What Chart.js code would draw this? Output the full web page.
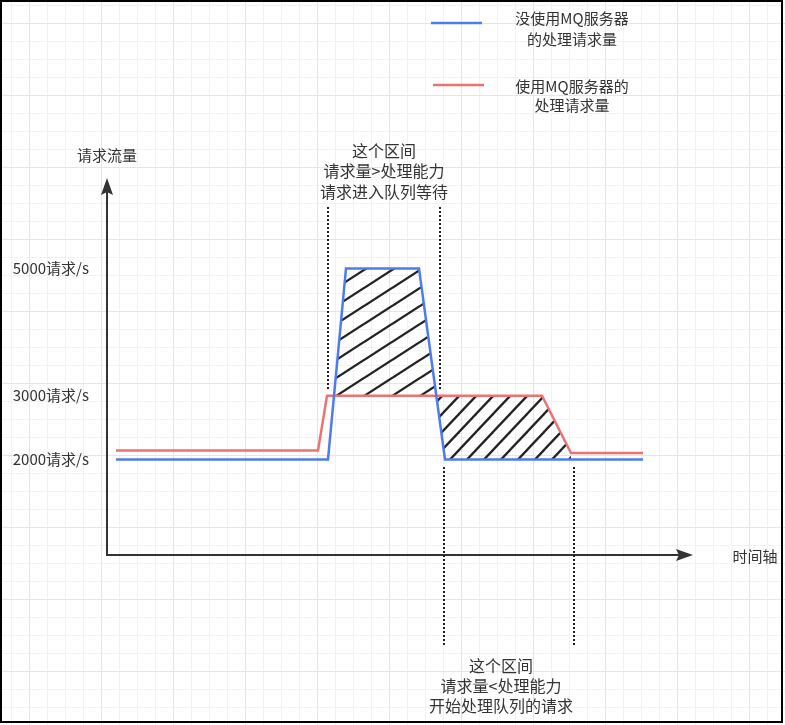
<!DOCTYPE html>
<html>
<head>
<meta charset="utf-8">
<script src="https://cdn.jsdelivr.net/npm/chart.js@4/dist/chart.umd.min.js"></script>
<style>
html, body { margin: 0; padding: 0; background: #fff; }
canvas { display: block; }
</style>
</head>
<body>
<canvas id="c" width="785" height="725"></canvas>
<script>
// ---------- data ----------
const seriesNames = ['没使用MQ服务器的处理请求量', '使用MQ服务器的处理请求量'];
const noMqTime = [0.9, 22.1, 23.9, 31.2, 33.8, 53.6];
const noMqRate = [2000, 2000, 5000, 5000, 2000, 2000];
const mqTime = [0.9, 21.1, 22.0, 43.5, 46.4, 53.6];
const mqRate = [2140, 2140, 3000, 3000, 2100, 2100];
const queueInTime = [22.7, 23.9, 31.2, 32.9];
const queueInRate = [3000, 5000, 5000, 3000];
const queueOutTime = [32.9, 43.5, 46.4, 46.4, 33.8];
const queueOutRate = [3000, 3000, 2100, 2000, 2000];
const yTickValues = [2000, 3000, 5000];
const yTickLabels = ['2000请求/s', '3000请求/s', '5000请求/s'];
const yAxisTitle = '请求流量';
const xAxisTitle = '时间轴';
const legendLines = [['没使用MQ服务器', '的处理请求量'], ['使用MQ服务器的', '处理请求量']];
const noteAbove = ['这个区间', '请求量>处理能力', '请求进入队列等待'];
const noteBelow = ['这个区间', '请求量<处理能力', '开始处理队列的请求'];
const guideTime = [22.1, 33.3, 33.7, 46.7];
const guideFrom = [5965, 5965, 1880, 1880];
const guideTo = [3090, 3090, -930, -930];

// ---------- styling ----------
const FONT = '"Noto Sans CJK SC", "Noto Sans", sans-serif';
const TEXT = '#333333';
const BLUE = '#4f7bef';
const RED = '#ef7272';

const pts = (xs, ys) => xs.map((x, i) => ({ x: x, y: ys[i] }));

function hatch(w, h) {
  const c = document.createElement('canvas');
  c.width = w; c.height = h;
  const g = c.getContext('2d');
  g.strokeStyle = '#222';
  g.lineWidth = 2.3;
  for (let k = -1; k <= 1; k++) {
    g.beginPath();
    g.moveTo(-w, 2 * h + k * h);
    g.lineTo(2 * w, -h + k * h);
    g.stroke();
  }
  return g.createPattern(c, 'repeat');
}

const deco = {
  id: 'deco',
  beforeDraw(chart) {
    const ctx = chart.ctx, W = chart.width, H = chart.height;
    ctx.save();
    ctx.fillStyle = '#fff';
    ctx.fillRect(0, 0, W, H);
    ctx.lineWidth = 1;
    ctx.strokeStyle = '#f2f2f2';
    ctx.beginPath();
    for (let x = 11.5; x < W; x += 18) { ctx.moveTo(x, 0); ctx.lineTo(x, H); }
    for (let y = 5.5; y < H; y += 18) { ctx.moveTo(0, y); ctx.lineTo(W, y); }
    ctx.stroke();
    ctx.strokeStyle = '#e5e5e5';
    ctx.beginPath();
    for (let x = 29.5; x < W; x += 72) { ctx.moveTo(x, 0); ctx.lineTo(x, H); }
    for (let y = 23.5; y < H; y += 72) { ctx.moveTo(0, y); ctx.lineTo(W, y); }
    ctx.stroke();
    ctx.restore();
  },
  afterDraw(chart) {
    const ctx = chart.ctx;
    const xs = chart.scales.x, ys = chart.scales.y, ca = chart.chartArea;
    ctx.save();
    // dotted guides
    ctx.strokeStyle = '#1e1e1e';
    ctx.lineWidth = 2;
    ctx.setLineDash([2, 2]);
    guideTime.forEach((t, i) => {
      const px = Math.round(xs.getPixelForValue(t));
      ctx.beginPath();
      ctx.moveTo(px, Math.round(ys.getPixelForValue(guideFrom[i])));
      ctx.lineTo(px, Math.round(ys.getPixelForValue(guideTo[i])));
      ctx.stroke();
    });
    ctx.setLineDash([]);
    // arrow heads
    ctx.fillStyle = '#333';
    const ax = ca.left, ay = ca.bottom;
    ctx.beginPath();
    ctx.moveTo(ax, 178); ctx.lineTo(ax + 6, 195); ctx.lineTo(ax, 192); ctx.lineTo(ax - 6, 195);
    ctx.closePath(); ctx.fill();
    ctx.beginPath();
    ctx.moveTo(693, ay); ctx.lineTo(676, ay - 6); ctx.lineTo(679, ay); ctx.lineTo(676, ay + 6);
    ctx.closePath(); ctx.fill();
    // texts
    ctx.fillStyle = TEXT;
    ctx.textAlign = 'center';
    ctx.textBaseline = 'middle';
    ctx.font = '15px ' + FONT;
    ctx.fillText(yAxisTitle, ax, 155);
    ctx.fillText(xAxisTitle, 755, ay + 1);
    // legend
    const legendY = [23, 85];
    const textY = [[18, 39], [86, 105]];
    chart.data.datasets.slice(0, 2).forEach((ds, i) => {
      ctx.strokeStyle = ds.borderColor;
      ctx.lineWidth = 2.5;
      ctx.beginPath();
      ctx.moveTo(431 + i * 2, legendY[i]);
      ctx.lineTo(482 + i * 2, legendY[i]);
      ctx.stroke();
      legendLines[i].forEach((s, j) => ctx.fillText(s, 572, textY[i][j]));
    });
    // notes
    ctx.font = '16px ' + FONT;
    noteAbove.forEach((s, j) => ctx.fillText(s, 384, 151 + j * 20.3));
    noteBelow.forEach((s, j) => ctx.fillText(s, 501, 666 + j * 19.8));
    // frame
    ctx.strokeStyle = '#000';
    ctx.lineWidth = 2;
    ctx.strokeRect(1, 1, 781, 721);
    ctx.restore();
  }
};

const chart = new Chart(document.getElementById('c'), {
  type: 'line',
  data: {
    datasets: [
      { label: seriesNames[0], data: pts(noMqTime, noMqRate), borderColor: BLUE, borderWidth: 2.5,
        pointRadius: 0, fill: false, tension: 0, order: 0 },
      { label: seriesNames[1], data: pts(mqTime, mqRate), borderColor: RED, borderWidth: 2.5,
        pointRadius: 0, fill: false, tension: 0, order: 1 },
      { label: 'queue-in', data: pts(queueInTime, queueInRate), borderWidth: 0, borderColor: 'rgba(0,0,0,0)',
        backgroundColor: hatch(28, 18), fill: 'shape', pointRadius: 0, tension: 0, order: 2 },
      { label: 'queue-out', data: pts(queueOutTime, queueOutRate), borderWidth: 0, borderColor: 'rgba(0,0,0,0)',
        backgroundColor: hatch(17, 18), fill: 'shape', pointRadius: 0, tension: 0, order: 3 }
    ]
  },
  options: {
    responsive: false,
    animation: false,
    devicePixelRatio: 1,
    events: [],
    layout: { padding: { left: 0, top: 192, right: 105, bottom: 170 } },
    plugins: { legend: { display: false }, tooltip: { enabled: false } },
    scales: {
      x: {
        type: 'linear', min: 0, max: 57.3,
        grid: { display: false, drawTicks: false },
        border: { display: true, color: '#333', width: 2 },
        ticks: { display: false },
        afterFit: (s) => { s.height = 0; }
      },
      y: {
        type: 'linear', min: 500, max: 6200,
        grid: { display: false, drawTicks: false },
        border: { display: true, color: '#333', width: 2 },
        afterBuildTicks: (s) => { s.ticks = yTickValues.map(v => ({ value: v })); },
        ticks: {
          padding: 18, color: TEXT, font: { family: FONT, size: 15 },
          callback: (v, i) => yTickLabels[yTickValues.indexOf(v)]
        },
        afterFit: (s) => { s.width = 107; }
      }
    }
  },
  plugins: [deco]
});
</script>
</body>
</html>
